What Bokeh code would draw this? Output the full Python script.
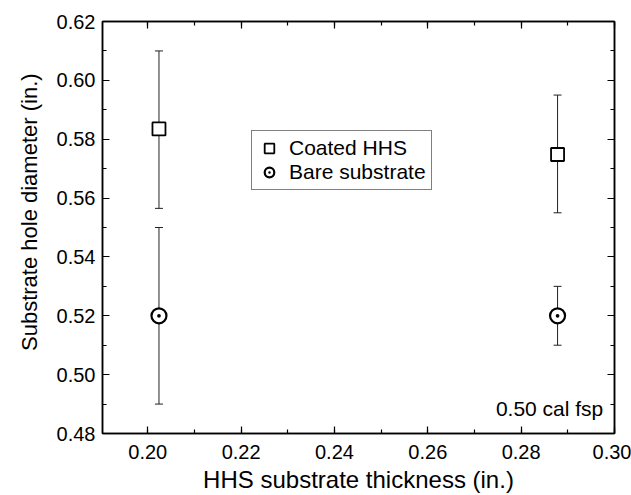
from bokeh.plotting import figure
from bokeh.models import (ColumnDataSource, Whisker, TeeHead, LinearAxis, SingleIntervalTicker,
                          PrintfTickFormatter, CustomJSTickFormatter, Legend, LegendItem, Label,
                          Range1d)
from bokeh.embed import file_html
from bokeh.resources import INLINE

# ---- data ----
thickness = [0.2024, 0.2878]
coated = [0.5835, 0.5748]
coated_lo = [0.5565, 0.5550]
coated_hi = [0.6100, 0.5950]
bare = [0.5200, 0.5200]
bare_lo = [0.4900, 0.5100]
bare_hi = [0.5500, 0.5300]

x_title = "HHS substrate thickness (in.)"
y_title = "Substrate hole diameter (in.)"
note = "0.50 cal fsp"
series_names = ["Coated HHS", "Bare substrate"]

FONT = "Liberation Sans"

src_c = ColumnDataSource(dict(x=thickness, y=coated, lo=coated_lo, hi=coated_hi))
src_b = ColumnDataSource(dict(x=thickness, y=bare, lo=bare_lo, hi=bare_hi))

p = figure(width=631, height=495, output_backend="svg", toolbar_location=None,
           x_range=Range1d(0.1903, 0.30), y_range=Range1d(0.48, 0.62),
           min_border_left=102, min_border_right=17, min_border_top=21, min_border_bottom=62)
p.xgrid.visible = False
p.ygrid.visible = False
p.outline_line_color = "black"
p.outline_line_width = 1.5
p.background_fill_color = "white"
p.border_fill_color = "white"


def style_axis(ax, labels=True):
    ax.axis_line_color = "black"
    ax.axis_line_width = 1.5
    ax.major_tick_in = 7
    ax.major_tick_out = 0
    ax.minor_tick_in = 4
    ax.minor_tick_out = 0
    ax.major_tick_line_color = "black"
    ax.minor_tick_line_color = "black"
    ax.major_tick_line_width = 1.2
    ax.minor_tick_line_width = 1.2
    if labels:
        ax.formatter = PrintfTickFormatter(format="%.2f")
        ax.major_label_text_font = FONT
        ax.major_label_text_font_size = "20px"
        ax.major_label_text_color = "black"
    else:
        ax.formatter = CustomJSTickFormatter(code="return ''")
        ax.major_label_standoff = 0


xa = p.xaxis[0]
ya = p.yaxis[0]
xa.ticker = SingleIntervalTicker(interval=0.02, num_minor_ticks=2)
ya.ticker = SingleIntervalTicker(interval=0.02, num_minor_ticks=2)
style_axis(xa)
style_axis(ya)
xa.major_label_standoff = 11
ya.major_label_standoff = 7

xa.axis_label = x_title
xa.axis_label_text_font = FONT
xa.axis_label_text_font_size = "24px"
xa.axis_label_text_font_style = "normal"
xa.axis_label_text_color = "black"
xa.axis_label_standoff = 4

NB = "\u00a0"
ya.axis_label = NB * 5 + y_title
ya.axis_label_text_font = FONT
ya.axis_label_text_font_size = "22px"
ya.axis_label_text_font_style = "normal"
ya.axis_label_text_color = "black"
ya.axis_label_standoff = 12

top = LinearAxis(ticker=SingleIntervalTicker(interval=0.02, num_minor_ticks=2))
right = LinearAxis(ticker=SingleIntervalTicker(interval=0.02, num_minor_ticks=2))
style_axis(top, labels=False)
style_axis(right, labels=False)
p.add_layout(top, "above")
p.add_layout(right, "right")

# error bars
for src in (src_c, src_b):
    w = Whisker(source=src, base="x", lower="lo", upper="hi", dimension="height",
                line_color="#222222", line_width=1,
                upper_head=TeeHead(size=8, line_color="#222222", line_width=1),
                lower_head=TeeHead(size=8, line_color="#222222", line_width=1))
    p.add_layout(w)

r_c = p.scatter("x", "y", source=src_c, marker="square", size=13,
                fill_color="white", line_color="black", line_width=1.8)
r_b = p.scatter("x", "y", source=src_b, marker="circle_dot", size=15,
                fill_color="white", line_color="black", line_width=2.2)

legend = Legend(items=[LegendItem(label=series_names[0], renderers=[r_c]),
                       LegendItem(label=series_names[1], renderers=[r_b])],
                location=(149, 243), padding=5, margin=0, spacing=0,
                glyph_width=24, glyph_height=24, label_height=24, label_standoff=8,
                label_text_font=FONT, label_text_font_size="21px", label_text_color="black",
                border_line_color="black", border_line_width=1,
                background_fill_color="white", background_fill_alpha=1)
p.add_layout(legend, "center")

p.add_layout(Label(x=0.2976, y=0.4885, text=note, text_align="right",
                   text_baseline="alphabetic", text_font=FONT, text_font_size="21px",
                   text_color="black"))

open("out.html", "w").write(file_html(p, INLINE))
